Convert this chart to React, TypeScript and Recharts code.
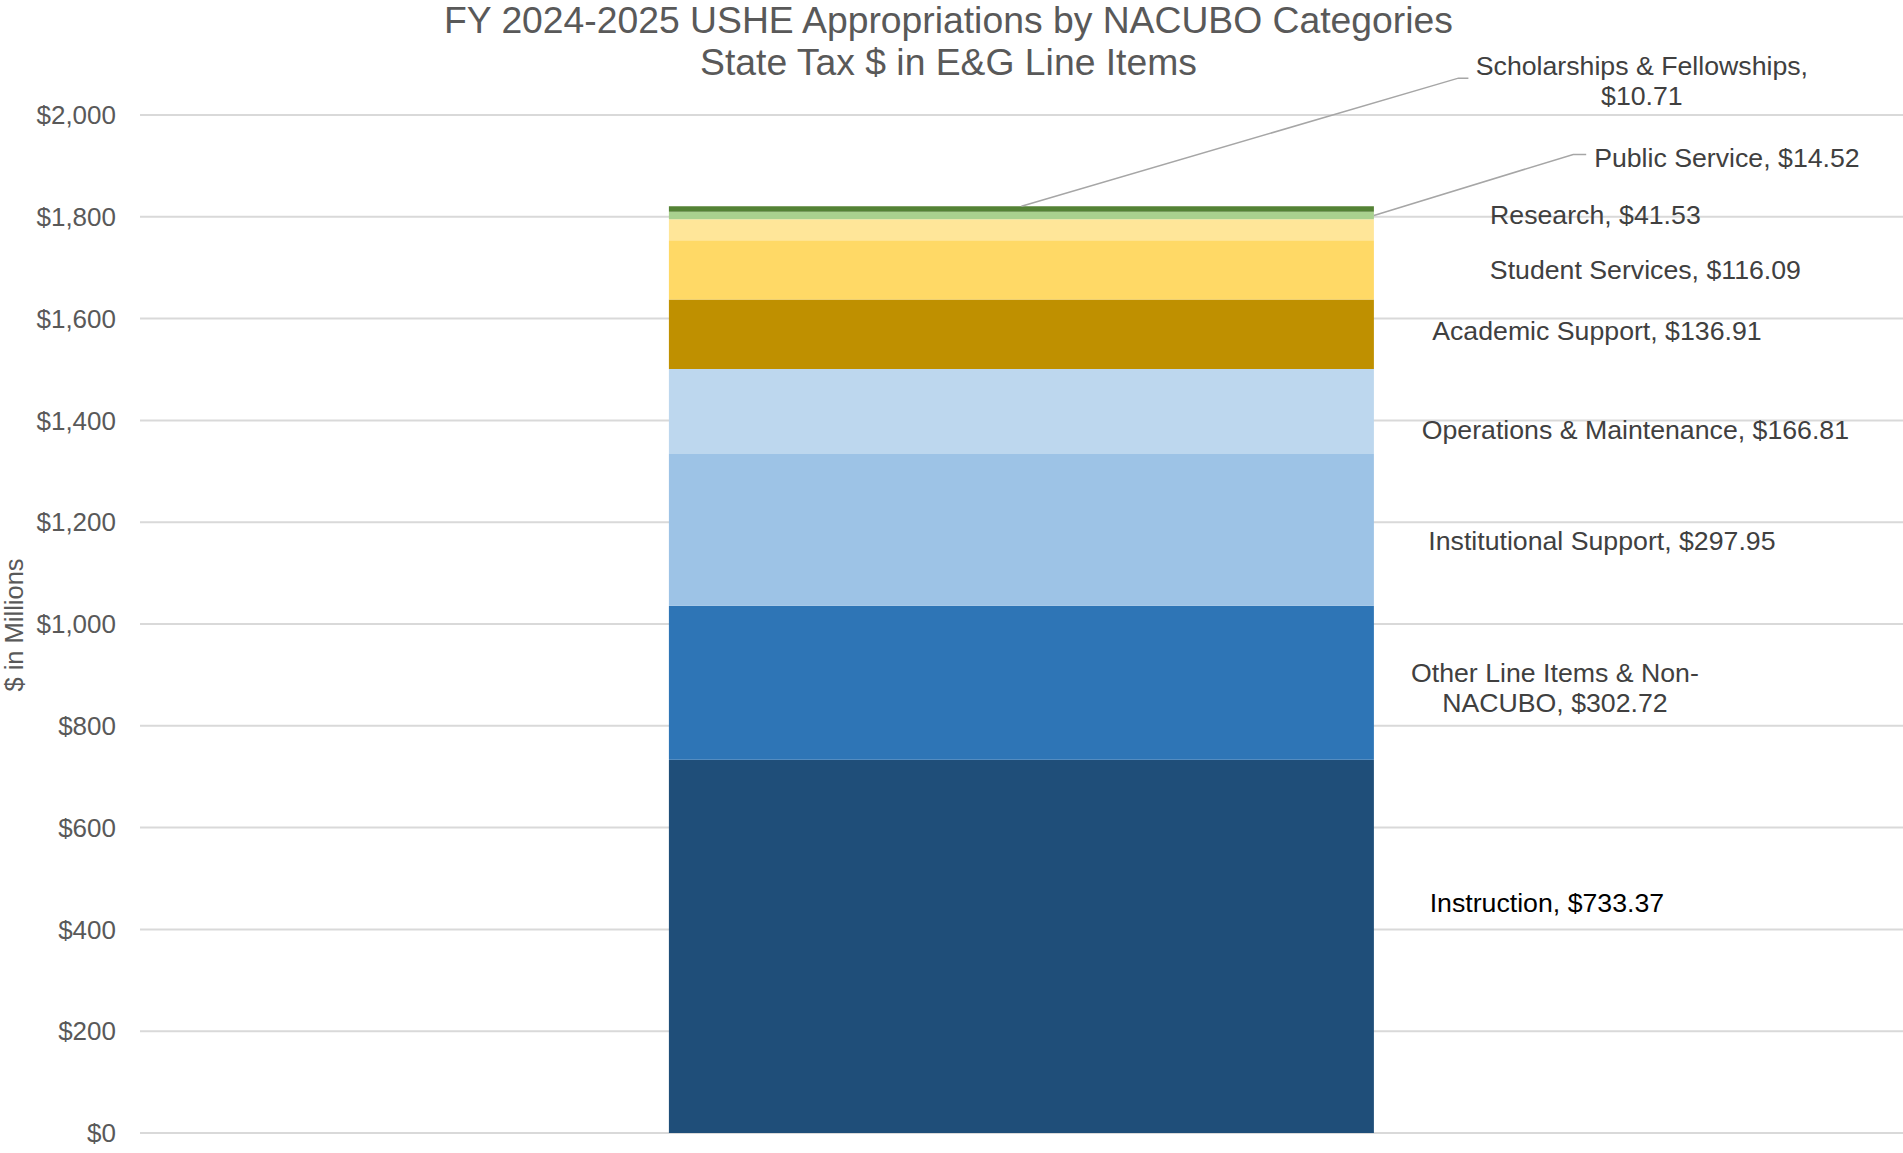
import React from 'react';
import { BarChart, Bar, XAxis, YAxis, CartesianGrid, LabelList } from 'recharts';

// ---------- data ----------
const categories = ['FY 2024-2025'];
const seriesKeys = [
  'instruction',
  'otherLineItems',
  'institutionalSupport',
  'operationsMaintenance',
  'academicSupport',
  'studentServices',
  'research',
  'publicService',
  'scholarships',
];
const seriesNames = [
  'Instruction',
  'Other Line Items & Non-NACUBO',
  'Institutional Support',
  'Operations & Maintenance',
  'Academic Support',
  'Student Services',
  'Research',
  'Public Service',
  'Scholarships & Fellowships',
];
const seriesValues = [733.37, 302.72, 297.95, 166.81, 136.91, 116.09, 41.53, 14.52, 10.71];
const yTicks = [0, 200, 400, 600, 800, 1000, 1200, 1400, 1600, 1800, 2000];
const titleLines = ['FY 2024-2025 USHE Appropriations by NACUBO Categories', 'State Tax $ in E&G Line Items'];
const yAxisTitle = '$ in Millions';

// ---------- styles ----------
const FONT = '"Liberation Sans", Arial, Helvetica, sans-serif';
const seriesColors = ['#1F4E79', '#2E75B6', '#9DC3E6', '#BDD7EE', '#BF9000', '#FFD966', '#FFE699', '#A9D18E', '#548235'];

type LabelStyle = {
  dx: number; // text block centre relative to bar right edge
  dy: number; // text block centre relative to segment centre
  color: string;
  breakAfter?: string;
  leader?: { from: 'top' | 'right'; elbow: [number, number]; end: [number, number] };
};

const labelStyles: LabelStyle[] = [
  { dx: 173, dy: -43, color: '#000000' },
  { dx: 181, dy: 5.5, color: '#404040', breakAfter: 'Non-' },
  { dx: 228, dy: 11.4, color: '#404040' },
  { dx: 261.5, dy: 18.7, color: '#404040' },
  { dx: 223, dy: -2.3, color: '#404040' },
  { dx: 271.5, dy: 1, color: '#404040' },
  { dx: 221.5, dy: -14.6, color: '#404040' },
  { dx: 353, dy: -57, color: '#404040', leader: { from: 'right', elbow: [-153.7, -4], end: [-140.7, -4] } },
  {
    dx: 268,
    dy: -127.2,
    color: '#404040',
    breakAfter: ', ',
    leader: { from: 'top', elbow: [-183.5, -3.7], end: [-173.5, -3.7] },
  },
];

const LABEL_FS = 26.7;
const LINE_H = 30;

const chartData = categories.map((c) => {
  const row: Record<string, any> = { category: c };
  seriesKeys.forEach((k, i) => {
    row[k] = seriesValues[i];
  });
  return row;
});

function makeLabel(i: number) {
  const st = labelStyles[i];
  const name = seriesNames[i];
  return (props: any) => {
    const vb = props.viewBox && props.viewBox.x != null ? props.viewBox : props;
    const x = Number(vb.x);
    const yRaw = Number(vb.y);
    const w = Number(vb.width);
    const hRaw = Number(vb.height);
    if (!isFinite(x) || !isFinite(yRaw)) return null;
    const top = Math.min(yRaw, yRaw + hRaw);
    const h = Math.abs(hRaw);
    const right = x + w;
    const segCenter = top + h / 2;
    const cx = right + st.dx;
    const cy = segCenter + st.dy;
    const value = Number(props.value ?? seriesValues[i]);
    const full = `${name}, $${value.toFixed(2)}`;
    let lines = [full];
    if (st.breakAfter) {
      const idx = full.indexOf(st.breakAfter);
      if (idx >= 0) {
        const cut = idx + st.breakAfter.length;
        lines = [full.slice(0, cut).trimEnd(), full.slice(cut).trimStart()];
      }
    }
    const firstCenter = cy - ((lines.length - 1) * LINE_H) / 2;
    let leader = null;
    if (st.leader) {
      const start =
        st.leader.from === 'top' ? [x + w / 2, top] : [right, segCenter];
      const pts = [
        start,
        [cx + st.leader.elbow[0], cy + st.leader.elbow[1]],
        [cx + st.leader.end[0], cy + st.leader.end[1]],
      ];
      leader = (
        <polyline
          points={pts.map((p) => p.join(',')).join(' ')}
          fill="none"
          stroke="#A6A6A6"
          strokeWidth={1.5}
        />
      );
    }
    return (
      <g key={`lbl-${i}`}>
        {leader}
        <text
          textAnchor="middle"
          fontFamily={FONT}
          fontSize={LABEL_FS}
          fill={st.color}
        >
          {lines.map((ln, j) => (
            <tspan key={j} x={cx} y={firstCenter + j * LINE_H + 0.32 * LABEL_FS}>
              {ln}
            </tspan>
          ))}
        </text>
      </g>
    );
  };
}

const fmtTick = (v: number) => `$${v.toLocaleString('en-US')}`;

export default function App() {
  return (
    <div
      style={{
        position: 'absolute',
        left: 0,
        top: 0,
        width: 1903,
        height: 1153,
        background: '#ffffff',
        fontFamily: FONT,
        overflow: 'hidden',
      }}
    >
      <div
        style={{
          position: 'absolute',
          left: -3,
          top: -1.5,
          width: 1903,
          textAlign: 'center',
          fontSize: 37.3,
          lineHeight: '42px',
          color: '#595959',
          fontFamily: FONT,
          zIndex: 2,
        }}
      >
        {titleLines.map((t, i) => (
          <div key={i}>{t}</div>
        ))}
      </div>
      <div
        style={{
          position: 'absolute',
          left: 14 - 150,
          top: 625 - 15,
          width: 300,
          height: 30,
          lineHeight: '30px',
          textAlign: 'center',
          fontSize: 25.5,
          color: '#595959',
          transform: 'rotate(-90deg)',
          fontFamily: FONT,
          zIndex: 2,
        }}
      >
        {yAxisTitle}
      </div>
      <BarChart
        width={1903}
        height={1153}
        data={chartData}
        margin={{ top: 115, right: 0, bottom: 20, left: 0 }}
        barCategoryGap="30%"
      >
        <CartesianGrid vertical={false} stroke="#D9D9D9" strokeWidth={2} />
        <XAxis dataKey="category" hide />
        <YAxis
          width={140}
          domain={[0, 2000]}
          ticks={yTicks}
          tickFormatter={fmtTick}
          axisLine={false}
          tickLine={false}
          tickSize={6}
          tickMargin={18}
          tick={{ fill: '#595959', fontSize: 26, fontFamily: FONT }}
          interval={0}
          allowDataOverflow
        />
        {seriesKeys.map((k, i) => (
          <Bar key={k} dataKey={k} stackId="a" fill={seriesColors[i]} isAnimationActive={false}>
            <LabelList dataKey={k} content={makeLabel(i)} />
          </Bar>
        ))}
      </BarChart>
    </div>
  );
}
